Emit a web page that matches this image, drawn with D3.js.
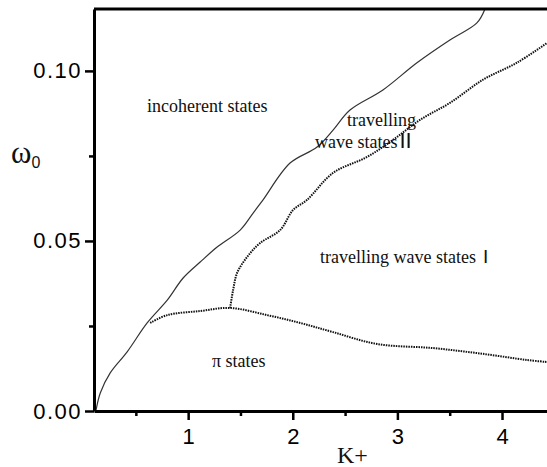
<!DOCTYPE html>
<html>
<head>
<meta charset="utf-8">
<style>
body { margin: 0; background: #fff; }
.axis path, .axis line { stroke: #000; }
.axis text { font-family: Arial, "Liberation Sans", sans-serif; fill: #000; }
.lbl { font-family: "Times New Roman", "Liberation Serif", serif; fill: #111; }
</style>
</head>
<body>
<script src="https://cdn.jsdelivr.net/npm/d3@7"></script>
<script>
var width = 547, height = 467;

// boundary: incoherent states
var incohK = [0.12, 0.16, 0.255, 0.417, 0.608, 0.80, 0.952, 1.115, 1.277, 1.497, 1.621, 1.716, 1.974, 2.232, 2.385, 2.547, 2.862, 3.187, 3.502, 3.76, 3.837];
var incohW = [0.0003, 0.0053, 0.0112, 0.0174, 0.0259, 0.0326, 0.0391, 0.0438, 0.0482, 0.0532, 0.0582, 0.0621, 0.0729, 0.0776, 0.0826, 0.0885, 0.0944, 0.1024, 0.1091, 0.1141, 0.1182];

// boundary: pi states
var piK = [0.637, 0.80, 1.115, 1.401, 1.755, 2.07, 2.385, 2.805, 3.34, 3.818, 4.238, 4.43];
var piW = [0.0259, 0.0282, 0.0294, 0.0303, 0.0282, 0.0259, 0.0232, 0.0197, 0.0185, 0.0168, 0.0150, 0.0144];

// boundary: travelling wave states I / II
var twK = [1.401, 1.43, 1.468, 1.564, 1.688, 1.879, 2.003, 2.137, 2.385, 2.71, 2.958, 3.216, 3.502, 3.818, 4.142, 4.43];
var twW = [0.0303, 0.0356, 0.0406, 0.0453, 0.0494, 0.0532, 0.0591, 0.0621, 0.070, 0.0747, 0.0797, 0.0856, 0.0906, 0.0974, 0.1024, 0.1082];

var xMajor = [1, 2, 3, 4], xMinor = [0.5, 1.5, 2.5, 3.5];
var yMajor = [0, 0.05, 0.10], yMinor = [0.025, 0.075];

var svg = d3.select("body").append("svg")
    .attr("width", width)
    .attr("height", height);

var x = d3.scaleLinear().domain([0.1, 4.43]).range([94, 547]);
var y = d3.scaleLinear().domain([0, 0.1182]).range([411, 9]);

function zip(a, b) { return a.map(function (v, i) { return [v, b[i]]; }); }

var line = d3.line()
    .x(function (d) { return x(d[0]); })
    .y(function (d) { return y(d[1]); })
    .curve(d3.curveCatmullRom);

svg.append("path")
    .datum(zip(incohK, incohW))
    .attr("d", line)
    .attr("fill", "none")
    .attr("stroke", "#333")
    .attr("stroke-width", 1.2);

svg.append("path")
    .datum(zip(piK, piW))
    .attr("d", line)
    .attr("fill", "none")
    .attr("stroke", "#111")
    .attr("stroke-width", 2)
    .attr("stroke-dasharray", "1.5,1");

svg.append("path")
    .datum(zip(twK, twW))
    .attr("d", line)
    .attr("fill", "none")
    .attr("stroke", "#111")
    .attr("stroke-width", 2)
    .attr("stroke-dasharray", "1.5,1");

// minor ticks
svg.append("g").attr("class", "axis")
    .attr("transform", "translate(0,411)")
    .call(d3.axisBottom(x).tickValues(xMinor).tickSize(5).tickSizeOuter(0).tickFormat(""))
    .call(function (g) { g.select(".domain").remove(); g.selectAll("line").attr("stroke-width", 2.5); });
svg.append("g").attr("class", "axis")
    .attr("transform", "translate(94,0)")
    .call(d3.axisLeft(y).tickValues(yMinor).tickSize(5).tickSizeOuter(0).tickFormat(""))
    .call(function (g) { g.select(".domain").remove(); g.selectAll("line").attr("stroke-width", 2.5); });

// major axes
svg.append("g").attr("class", "axis")
    .attr("transform", "translate(0,411)")
    .call(d3.axisBottom(x).tickValues(xMajor).tickSize(9).tickSizeOuter(0).tickPadding(8).tickFormat(d3.format("d")))
    .call(function (g) {
        g.select(".domain").attr("stroke-width", 3);
        g.selectAll("line").attr("stroke-width", 2.5);
        g.selectAll("text").attr("font-size", 22);
    });
svg.append("g").attr("class", "axis")
    .attr("transform", "translate(94,0)")
    .call(d3.axisLeft(y).tickValues(yMajor).tickSize(9).tickSizeOuter(0).tickPadding(3).tickFormat(d3.format(".2f")))
    .call(function (g) {
        g.select(".domain").attr("stroke-width", 3);
        g.selectAll("line").attr("stroke-width", 2.5);
        g.selectAll("text").attr("font-size", 22).attr("letter-spacing", 1.5);
    });

// top frame
svg.append("line")
    .attr("x1", 94).attr("x2", width)
    .attr("y1", y(0.1182)).attr("y2", y(0.1182))
    .attr("stroke", "#000").attr("stroke-width", 3);

// axis titles
var yt = svg.append("text").attr("class", "lbl").attr("x", 11).attr("y", 163);
yt.append("tspan").attr("font-size", 31).text("ω");
yt.append("tspan").attr("font-size", 16).attr("font-family", "Arial, sans-serif").attr("dy", 5).text("0");

var xt = svg.append("text").attr("class", "lbl").attr("x", 337).attr("y", 463);
xt.append("tspan").attr("font-size", 24).text("K");
xt.append("tspan").attr("font-size", 24).text("+");

// region labels
svg.append("text").attr("class", "lbl").attr("x", 147).attr("y", 112).attr("font-size", 18).text("incoherent states");
svg.append("text").attr("class", "lbl").attr("x", 347).attr("y", 126).attr("font-size", 18).text("travelling");
var t2 = svg.append("text").attr("class", "lbl").attr("x", 315).attr("y", 148).attr("font-size", 18);
t2.append("tspan").text("wave states");
t2.append("tspan").attr("font-family", "Arial, sans-serif").attr("font-size", 22).attr("dx", 2).text("II");
var t1 = svg.append("text").attr("class", "lbl").attr("x", 320).attr("y", 263).attr("font-size", 18);
t1.append("tspan").text("travelling wave states");
t1.append("tspan").attr("font-family", "Arial, sans-serif").attr("font-size", 19).attr("dx", 7).text("I");
svg.append("text").attr("class", "lbl").attr("x", 212).attr("y", 367).attr("font-size", 18).text("π states");
</script>
</body>
</html>
